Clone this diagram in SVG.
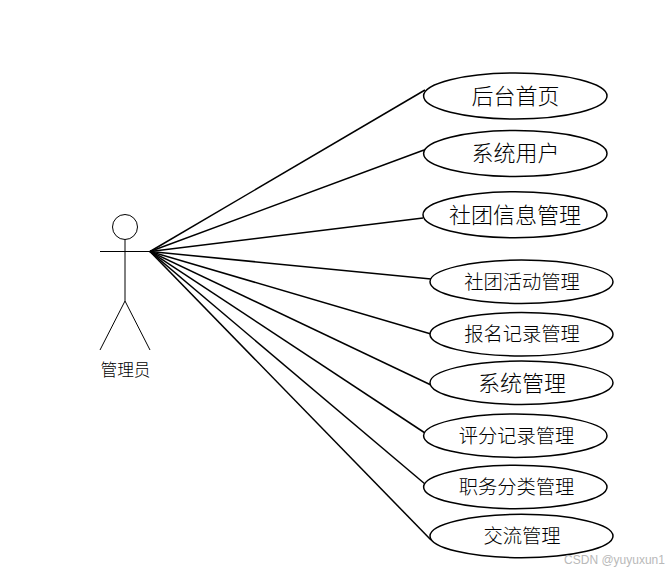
<svg xmlns="http://www.w3.org/2000/svg" width="668" height="573" viewBox="0 0 668 573">
<style>
.l{stroke:#000;stroke-width:1.5;fill:none}
.a{stroke:#000;stroke-width:1;fill:none}
.u{stroke:#000;stroke-width:1.5;fill:#fff}
text{font-family:"Noto Sans CJK SC","Liberation Serif",serif;fill:#000;text-anchor:middle;font-weight:300}
.b{font-size:22px}.s{font-size:19.300px}
</style>
<rect width="668" height="573" fill="#fff"/>
<g id="connectors">
<path class="l" d="M150 251.500L425 90"/>
<path class="l" d="M150 251.500L424 150"/>
<path class="l" d="M150 251.500L423 218"/>
<path class="l" d="M150 251.500L431 279"/>
<path class="l" d="M150 251.500L431 334"/>
<path class="l" d="M150 251.500L431 385"/>
<path class="l" d="M150 251.500L425 433"/>
<path class="l" d="M150 251.500L425 484"/>
<path class="l" d="M150 251.500L431 540"/>
</g>
<g id="actor">
<circle class="a" cx="125" cy="227" r="12.500"/>
<path class="a" d="M125 239.500V301M100 251.500H150M125 301L100 350M125 301L150 350"/>
<text x="125.500" y="376" font-size="16.700">管理员</text>
</g>
<g id="uc1"><ellipse class="u" cx="515.300" cy="96" rx="91.700" ry="23"/><text class="b" x="515.500" y="104">后台首页</text></g>
<g id="uc2"><ellipse class="u" cx="515.300" cy="153.500" rx="91.700" ry="23"/><text class="b" x="515.500" y="161">系统用户</text></g>
<g id="uc3"><ellipse class="u" cx="515" cy="214.700" rx="92" ry="23"/><text class="b" x="515" y="222.500">社团信息管理</text></g>
<g id="uc4"><ellipse class="u" cx="521.500" cy="281.700" rx="91.500" ry="21.700"/><text class="s" x="522" y="289">社团活动管理</text></g>
<g id="uc5"><ellipse class="u" cx="521.500" cy="334.300" rx="91.500" ry="21.700"/><text class="s" x="522" y="341">报名记录管理</text></g>
<g id="uc6"><ellipse class="u" cx="521.500" cy="382.700" rx="91.500" ry="21.700"/><text class="b" x="522" y="391">系统管理</text></g>
<g id="uc7"><ellipse class="u" cx="515.300" cy="435.700" rx="91.700" ry="21.700"/><text class="s" x="516.500" y="443">评分记录管理</text></g>
<g id="uc8"><ellipse class="u" cx="515.300" cy="487" rx="91.700" ry="21.700"/><text class="s" x="516.500" y="494">职务分类管理</text></g>
<g id="uc9"><ellipse class="u" cx="521.500" cy="536" rx="91.500" ry="21.700"/><text class="s" x="522" y="543">交流管理</text></g>
<text x="614.500" y="564" style="font-family:'Liberation Sans',sans-serif;font-size:12px;fill:#b9b9b9;font-weight:400">CSDN @yuyuxun1</text>
</svg>
